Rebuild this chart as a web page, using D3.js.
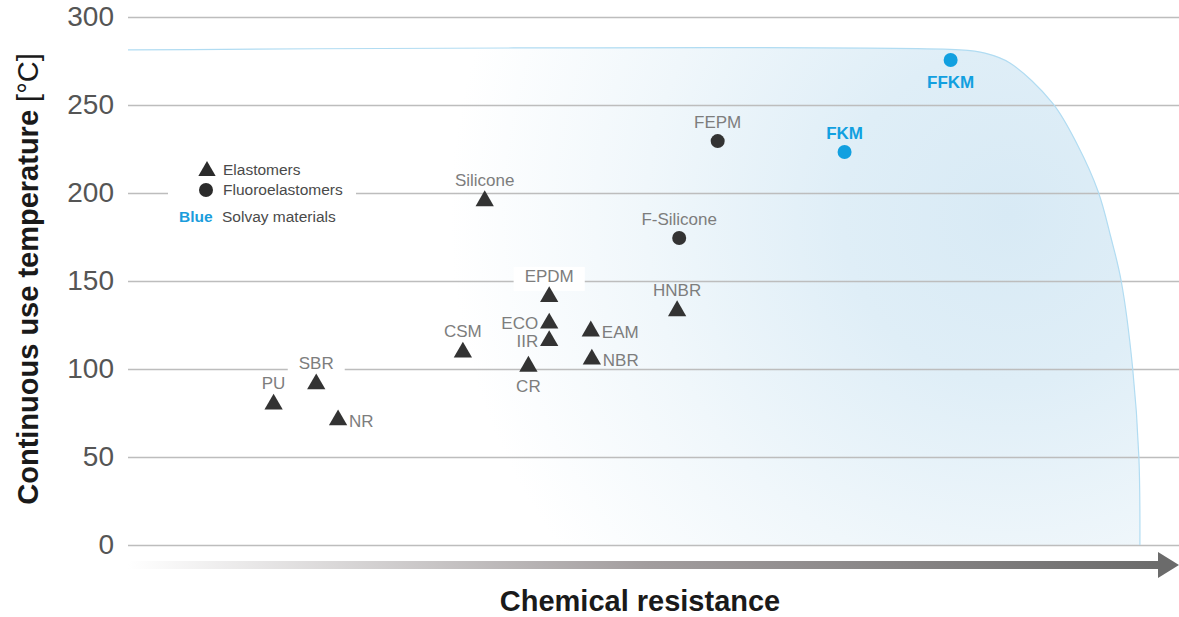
<!DOCTYPE html>
<html lang="en">
<head>
    <meta charset="UTF-8">
    <title>Chemical resistance vs temperature</title>
    <script src="https://cdn.jsdelivr.net/npm/d3@7"></script>
    <style>
        html, body { margin: 0; padding: 0; background: #fff; }
        svg { display: block; font-family: "Liberation Sans", Arial, sans-serif; }
    </style>
</head>
<body>
</body>
<script>
    var width = 1179
    var height = 617

    // materials (x = chemical resistance 0-100, y = temperature °C)
    var names = ['PU', 'SBR', 'NR', 'CSM', 'Silicone', 'CR', 'ECO', 'IIR', 'EPDM', 'EAM', 'NBR', 'HNBR',
        'F-Silicone', 'FEPM', 'FKM', 'FFKM']
    var resistance = [14.0, 18.1, 20.2, 32.2, 34.3, 38.5, 40.5, 40.5, 40.5, 44.5, 44.6, 52.8,
        53.0, 56.7, 68.9, 79.1]
    var temperature = [80, 91.5, 71, 109.5, 195.5, 101.5, 126, 116, 141, 121.5, 105.5, 133,
        174.4, 229.5, 223.3, 275.6]
    var family = ['E', 'E', 'E', 'E', 'E', 'E', 'E', 'E', 'E', 'E', 'E', 'E', 'F', 'F', 'F', 'F']
    var solvay = ['FKM', 'FFKM']

    // edge of the shaded zone
    var zoneX = [0, 80.0, 82.4, 84.8, 88.9, 91.3, 93.3, 94.5, 95.5, 96.6, 97.2, 97.3]
    var zoneY = [281.3, 281.3, 279.5, 273.9, 251.1, 227.3, 200.6, 175, 150, 100.6, 50, 0]

    var yTicks = [0, 50, 100, 150, 200, 250, 300]

    var svg = d3.select('body')
        .append('svg')
        .attr('width', width)
        .attr('height', height);

    var x = d3.scaleLinear().domain([0, 100]).range([128, 1168])
    var y = d3.scaleLinear().domain([0, 300]).range([545, 17])

    var defs = svg.append('defs')
    var rg = defs.append('radialGradient')
        .attr('id', 'zoneFill')
        .attr('gradientUnits', 'userSpaceOnUse')
        .attr('cx', 1010).attr('cy', 215).attr('r', 560)
    rg.append('stop').attr('offset', 0).attr('stop-color', '#d8eaf5')
    rg.append('stop').attr('offset', 0.3).attr('stop-color', '#dfeef7')
    rg.append('stop').attr('offset', 0.65).attr('stop-color', '#f0f7fb')
    rg.append('stop').attr('offset', 1).attr('stop-color', '#ffffff')

    var ag = defs.append('linearGradient')
        .attr('id', 'arrowFill')
        .attr('gradientUnits', 'userSpaceOnUse')
        .attr('x1', 128).attr('x2', 1165).attr('y1', 0).attr('y2', 0)
    ag.append('stop').attr('offset', 0).attr('stop-color', '#ffffff')
    ag.append('stop').attr('offset', 0.5).attr('stop-color', '#a29d9e')
    ag.append('stop').attr('offset', 1).attr('stop-color', '#6b6b6b')

    // shaded zone
    var zone = zoneX.map(function (d, i) { return [d, zoneY[i]] })
    var edge = d3.line()
        .x(function (d) { return x(d[0]) })
        .y(function (d) { return y(d[1]) })
        .curve(d3.curveCatmullRom.alpha(0.5))

    var area = d3.area()
        .x(function (d) { return x(d[0]) })
        .y0(y(0))
        .y1(function (d) { return y(d[1]) })
        .curve(d3.curveCatmullRom.alpha(0.5))

    svg.append('path')
        .attr('d', area(zone))
        .attr('fill', 'url(#zoneFill)')

    // grid + tick labels
    var axis = svg.append('g')
        .attr('transform', 'translate(128,0)')
        .call(d3.axisLeft(y).tickValues(yTicks).tickSize(-(width - 128)).tickPadding(14))
    axis.select('.domain').remove()
    axis.selectAll('.tick line').attr('stroke', '#bdbdbd').attr('stroke-width', 1.5)
    axis.selectAll('.tick text')
        .attr('fill', '#555')
        .style('font-size', '28px')
        .style('font-family', '"Liberation Sans", Arial, sans-serif')

    svg.append('path')
        .attr('d', edge(zone))
        .attr('fill', 'none')
        .attr('stroke', '#b1dcf2')
        .attr('stroke-width', 1.2)

    // arrow of the x axis
    svg.append('rect')
        .attr('x', 128).attr('y', 561).attr('width', 1160 - 128).attr('height', 8)
        .attr('fill', 'url(#arrowFill)')
    svg.append('path')
        .attr('d', 'M1158,552L1179,565L1158,578Z')
        .attr('fill', '#6b6b6b')

    // axis titles
    svg.append('text')
        .attr('x', 640).attr('y', 611)
        .attr('text-anchor', 'middle')
        .style('font-size', '29px')
        .style('font-weight', 'bold')
        .attr('fill', '#1a1a1a')
        .text('Chemical resistance')

    var yt = svg.append('text')
        .attr('transform', 'translate(38,279) rotate(-90)')
        .attr('text-anchor', 'middle')
        .style('font-size', '29px')
        .attr('fill', '#1a1a1a')
    yt.append('tspan').style('font-weight', 'bold').text('Continuous use temperature ')
    yt.append('tspan').style('font-weight', 'normal').text('[°C]')

    // legend
    var lg = svg.append('g')
    lg.append('rect').attr('x', 168).attr('y', 158).attr('width', 188).attr('height', 72).attr('fill', '#fff')
    lg.append('path')
        .attr('transform', 'translate(207,171)')
        .attr('d', d3.symbol(d3.symbolTriangle, 130)())
        .attr('fill', '#2b2b2b')
    lg.append('circle').attr('cx', 206).attr('cy', 190).attr('r', 7).attr('fill', '#2b2b2b')
    lg.append('text').attr('x', 223).attr('y', 175).text('Elastomers')
    lg.append('text').attr('x', 223).attr('y', 195).text('Fluoroelastomers')
    lg.append('text').attr('x', 179).attr('y', 222).attr('fill', '#1a9ddc').style('font-weight', 'bold').text('Blue')
    lg.append('text').attr('x', 222).attr('y', 222).text('Solvay materials')
    lg.selectAll('text').filter(function () { return !this.getAttribute('fill') })
        .attr('fill', '#4a4a4a')
    lg.selectAll('text').style('font-size', '15.5px')

    // points
    var data = names.map(function (n, i) {
        return { name: n, x: resistance[i], y: temperature[i], fam: family[i], blue: solvay.indexOf(n) >= 0 }
    })

    // labels go under the marks so a white knockout never hides a triangle
    var lab = svg.append('g')
    var marks = svg.append('g')

    marks.selectAll('path.tri')
        .data(data.filter(function (d) { return d.fam === 'E' }))
        .enter().append('path')
        .attr('class', 'tri')
        .attr('transform', function (d) { return 'translate(' + x(d.x) + ',' + y(d.y) + ')' })
        .attr('d', d3.symbol(d3.symbolTriangle, 145)())
        .attr('fill', '#333')
    marks.selectAll('circle')
        .data(data.filter(function (d) { return d.fam === 'F' }))
        .enter().append('circle')
        .attr('cx', function (d) { return x(d.x) })
        .attr('cy', function (d) { return y(d.y) })
        .attr('r', 7)
        .attr('fill', function (d) { return d.blue ? '#12a0e0' : '#333' })

    // where each label sits relative to its mark
    var place = {
        PU: 'top', SBR: 'top', NR: 'right', CSM: 'top', Silicone: 'top', CR: 'bottom',
        ECO: 'left', IIR: 'left', EPDM: 'top', EAM: 'right', NBR: 'right', HNBR: 'top',
        'F-Silicone': 'top', FEPM: 'top', FKM: 'top', FFKM: 'bottom'
    }
    var knockout = ['SBR', 'EPDM']

    data.forEach(function (d) {
        var px = x(d.x), py = y(d.y), p = place[d.name]
        var t = lab.append('text')
            .attr('fill', d.blue ? '#12a0e0' : '#7d7d7d')
            .style('font-size', '17px')
            .style('font-weight', d.blue ? 'bold' : 'normal')
            .text(d.name)
        if (p === 'top') t.attr('x', px).attr('y', py - 15).attr('text-anchor', 'middle')
        if (p === 'bottom') t.attr('x', px).attr('y', py + (d.fam === 'F' ? 28 : 26)).attr('text-anchor', 'middle')
        if (p === 'left') t.attr('x', px - 11).attr('y', py + 6).attr('text-anchor', 'end')
        if (p === 'right') t.attr('x', px + 11).attr('y', py + 7).attr('text-anchor', 'start')
        if (d.fam === 'F' && p === 'top') t.attr('y', py - 13)
        if (knockout.indexOf(d.name) >= 0) {
            var b = t.node().getBBox()
            lab.insert('rect', function () { return t.node() })
                .attr('x', b.x - 11).attr('y', b.y).attr('width', b.width + 22).attr('height', b.height + 5)
                .attr('fill', '#fff')
        }
    })
</script>
</html>
